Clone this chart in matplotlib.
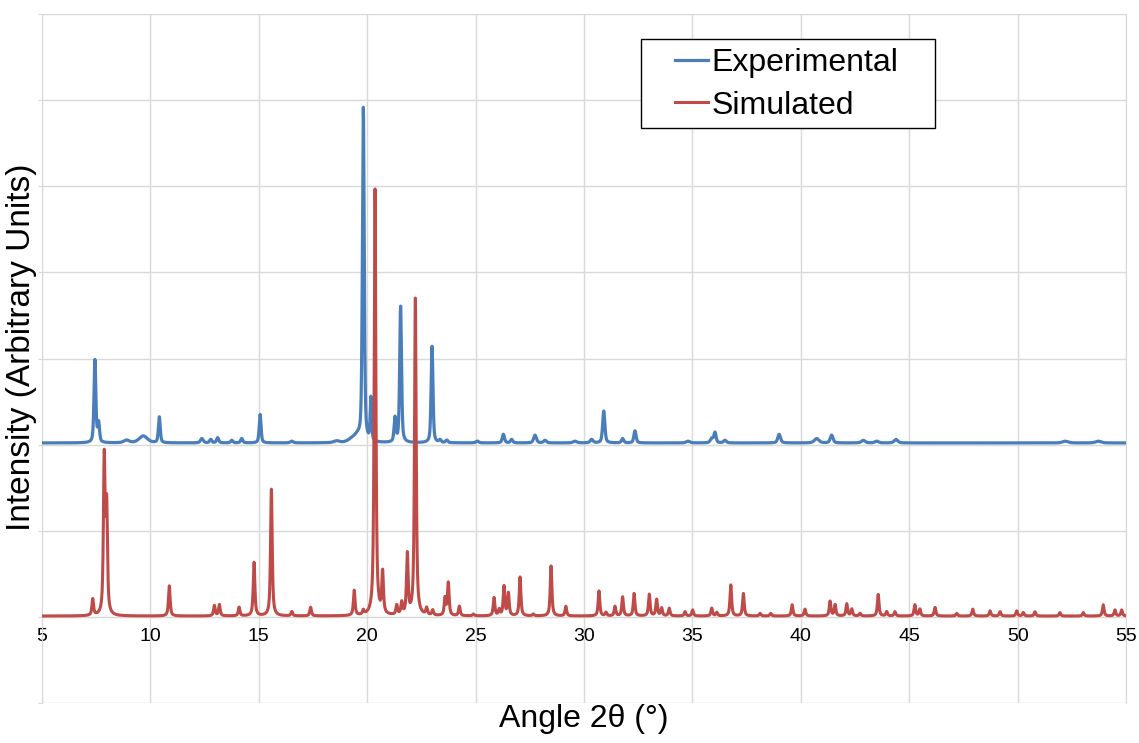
import numpy as np
import matplotlib.pyplot as plt
from matplotlib.patches import Rectangle

plt.rcParams['font.family'] = ['Liberation Sans', 'DejaVu Sans']

# peaks: 2theta position, height above baseline, FWHM
exp_pos = [7.44, 7.61, 8.9, 9.67, 10.41, 12.37, 12.78, 13.1, 13.75, 14.21, 15.06, 16.52,
           18.59, 19.3, 19.55, 19.82, 20.17, 21.28, 21.54, 22.99, 23.36, 23.67, 25.08,
           26.28, 26.66, 27.74, 28.2, 29.58, 30.35, 30.91, 31.78, 32.35, 34.8, 35.89,
           36.04, 36.5, 39.0, 40.73, 41.42, 42.88, 43.5, 44.39, 52.2, 53.72]
exp_height = [0.96, 0.22, 0.03, 0.08, 0.30, 0.05, 0.04, 0.06, 0.03, 0.05, 0.33, 0.02,
              0.02, 0.04, 0.06, 3.88, 0.50, 0.28, 1.58, 1.12, 0.03, 0.03, 0.02,
              0.10, 0.04, 0.09, 0.03, 0.02, 0.04, 0.37, 0.05, 0.14, 0.02, 0.05,
              0.12, 0.03, 0.10, 0.05, 0.09, 0.03, 0.02, 0.04, 0.02, 0.02]
exp_fwhm = [0.10, 0.10, 0.3, 0.45, 0.10, 0.15, 0.12, 0.12, 0.12, 0.12, 0.10, 0.15,
            0.3, 0.4, 0.3, 0.10, 0.08, 0.10, 0.10, 0.10, 0.12, 0.12, 0.15,
            0.12, 0.12, 0.15, 0.15, 0.2, 0.15, 0.12, 0.12, 0.12, 0.2, 0.15,
            0.12, 0.15, 0.15, 0.25, 0.15, 0.2, 0.2, 0.2, 0.3, 0.3]
exp_base = 2.02

sim_pos = [7.34, 7.87, 7.98, 10.87, 12.95, 13.18, 14.09, 14.78, 15.58, 16.52, 17.39,
           19.4, 19.82, 20.36, 20.71, 21.36, 21.59, 21.85, 22.22, 22.74, 23.02, 23.59,
           23.74, 24.25, 24.9, 25.85, 26.09, 26.31, 26.51, 27.05, 27.66, 28.48, 29.16,
           30.69, 31.01, 31.43, 31.78, 32.31, 33.01, 33.35, 33.58, 33.93, 34.66, 35.01,
           35.89, 36.12, 36.77, 37.35, 38.12, 38.61, 39.6, 40.19, 41.35, 41.58, 42.12,
           42.35, 42.73, 43.57, 43.96, 44.34, 45.26, 45.49, 46.19, 47.19, 47.93, 48.73,
           49.19, 49.96, 50.26, 50.8, 51.95, 53.03, 53.95, 54.49, 54.8]
sim_height = [0.19, 1.80, 1.22, 0.35, 0.12, 0.13, 0.10, 0.62, 1.47, 0.05, 0.10,
              0.29, 0.05, 4.95, 0.48, 0.11, 0.14, 0.70, 3.68, 0.08, 0.06, 0.20,
              0.38, 0.11, 0.02, 0.21, 0.07, 0.34, 0.26, 0.45, 0.02, 0.58, 0.11,
              0.29, 0.04, 0.11, 0.22, 0.26, 0.25, 0.19, 0.09, 0.09, 0.05, 0.07,
              0.09, 0.04, 0.36, 0.26, 0.03, 0.03, 0.13, 0.08, 0.17, 0.13, 0.14,
              0.08, 0.03, 0.25, 0.05, 0.05, 0.13, 0.08, 0.10, 0.03, 0.08, 0.06,
              0.05, 0.06, 0.04, 0.05, 0.04, 0.04, 0.13, 0.07, 0.07]
sim_fwhm = 0.09
sim_base = 0.01

xticks = [5, 10, 15, 20, 25, 30, 35, 40, 45, 50, 55]

exp_color = '#4a7ebb'
sim_color = '#be4b48'
grid_color = '#d9d9d9'


def profile(x, pos, height, fwhm, eta):
    # pseudo-Voigt sum of the listed peaks
    x = x[:, None]
    pos = np.asarray(pos)[None, :]
    height = np.asarray(height)[None, :]
    w = np.broadcast_to(np.asarray(fwhm, dtype=float), pos.shape[1:])[None, :] / 2
    lor = 1 / (1 + ((x - pos) / w) ** 2)
    gau = np.exp(-np.log(2) * ((x - pos) / w) ** 2)
    return ((eta * lor + (1 - eta) * gau) * height).sum(axis=1)


theta = np.arange(5, 55.001, 0.01)
exp_curve = (exp_base + profile(theta, exp_pos, exp_height, exp_fwhm, 0.5)) * 1000
sim_curve = (sim_base + profile(theta, sim_pos, sim_height, sim_fwhm, 0.75)) * 1000

fig = plt.figure(figsize=(11.39, 7.43), dpi=100)
ax = fig.add_axes([0.0369, 0.0538, 0.9517, 0.9273])

ax.plot(theta, exp_curve, color=exp_color, lw=2.3, label='Experimental', zorder=3)
ax.plot(theta, sim_curve, color=sim_color, lw=2.2, label='Simulated', zorder=3)

ax.set_xlim(5, 55)
ax.set_ylim(-1000, 7000)
ax.set_xticks(xticks)
ax.set_yticks(np.arange(-1000, 7001, 1000))
ax.grid(True, color=grid_color, lw=1.0)
ax.set_axisbelow(True)

for s in ['top', 'right', 'left']:
    ax.spines[s].set_color(grid_color)
ax.spines['bottom'].set_position(('data', 0))
ax.spines['bottom'].set_color(grid_color)

ax.tick_params(axis='x', length=0, pad=8, labelsize=14, labelcolor='black')
ax.tick_params(axis='y', length=3, color=grid_color, labelleft=False)

ax.set_xlabel('Angle 2θ (°)', fontsize=23)
ax.xaxis.set_label_coords(0.5, -0.002)
ax.set_ylabel('Intensity (Arbitrary Units)', fontsize=24)
ax.yaxis.set_label_coords(-0.005, 0.516)

# legend box
fig.patches.append(Rectangle((0.5628, 0.8277), 0.2581, 0.1198, transform=fig.transFigure,
                             fill=True, facecolor='white', edgecolor='black', lw=1.0, zorder=5))
leg = fig.legend(loc='center', bbox_to_anchor=(0.6905, 0.8866), frameon=False, fontsize=23,
                 handlelength=1.05, handletextpad=0.1, labelspacing=0.4)
leg.set_zorder(6)

fig.savefig('out.png', dpi=100)
